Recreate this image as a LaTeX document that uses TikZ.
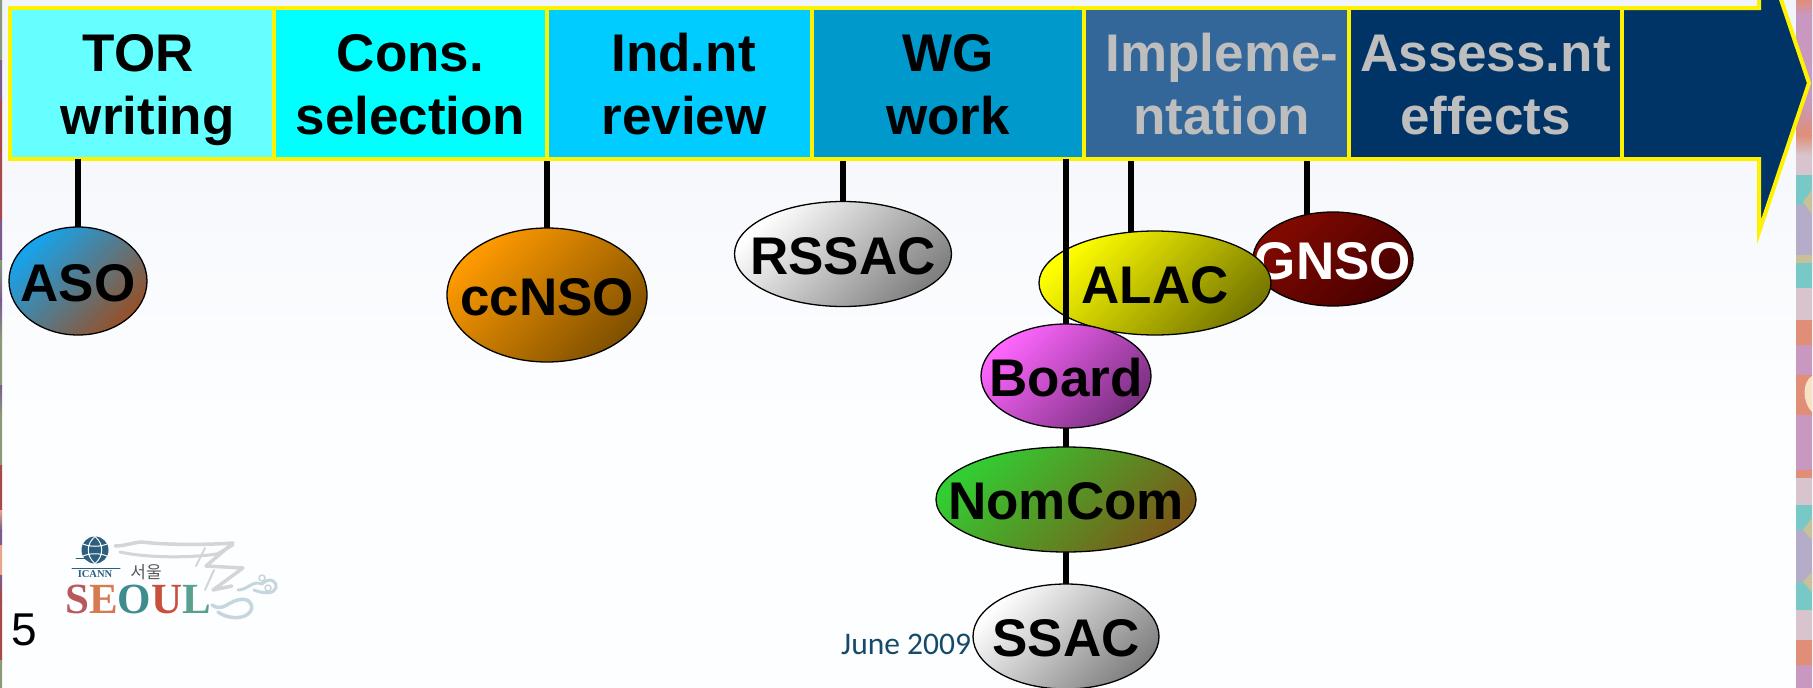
\documentclass[tikz,border=0pt]{standalone}
\usepackage{fontspec}
\setmainfont{Liberation Sans}
\newfontfamily\notecal{Carlito}
\newfontfamily\logoserif{Liberation Serif}
\newfontfamily\krfont{Noto Sans CJK KR}
\usetikzlibrary{shapes.geometric,calc}
\definecolor{sPu}{HTML}{C898C0}
\definecolor{sSa}{HTML}{E08E78}
\definecolor{sPk}{HTML}{D8C4CC}
\definecolor{sTe}{HTML}{78C8C8}
\definecolor{sLa}{HTML}{B4ACC8}
\definecolor{sKh}{HTML}{C8C098}
\definecolor{sBl}{HTML}{F8E2C4}
\definecolor{lGr}{HTML}{8A9A78}
\definecolor{lPu}{HTML}{7A5A90}
\definecolor{lRe}{HTML}{A84848}
\definecolor{lSa}{HTML}{E8A888}
\definecolor{navyb}{HTML}{003366}
\definecolor{roofc}{HTML}{D2D6D8}
\definecolor{cloudc}{HTML}{C6D6DE}
\definecolor{globec}{HTML}{2C5E7E}
\definecolor{datec}{HTML}{164A6A}
\definecolor{bgtop}{HTML}{F1F4FA}
\definecolor{bgbot}{HTML}{FDFEFF}
\definecolor{barA}{HTML}{66FFFF}
\definecolor{barB}{HTML}{00FFFF}
\definecolor{barC}{HTML}{00CCFF}
\definecolor{barD}{HTML}{0099CC}
\definecolor{barE}{HTML}{336699}
\definecolor{lighttxt}{HTML}{BEBEBE}
\definecolor{gnsoA}{HTML}{820A00}
\definecolor{gnsoB}{HTML}{480000}
\definecolor{alacB}{HTML}{787800}
\definecolor{asoA}{HTML}{14A5F0}
\definecolor{asoB}{HTML}{965028}
\definecolor{ccA}{HTML}{FF9B00}
\definecolor{ccB}{HTML}{805000}
\definecolor{greyB}{HTML}{808080}
\definecolor{boardA}{HTML}{FF66FF}
\definecolor{boardB}{HTML}{7A3080}
\definecolor{nomA}{HTML}{32CD32}
\definecolor{nomB}{HTML}{7A5A19}
\pgfdeclarelayer{bg}
\pgfdeclarelayer{stemlow}
\pgfdeclarelayer{elllow}
\pgfdeclarelayer{stemhigh}
\pgfsetlayers{bg,stemlow,elllow,stemhigh,main}
\newcommand{\twolines}[2]{\rule{0pt}{51pt}#1\\#2\rule[-12pt]{0pt}{12pt}}
\newcommand{\lab}[1]{\makebox[0pt]{\rule{0pt}{41pt}#1}}
\tikzset{
  bigtext/.style={font=\fontsize{53}{63}\selectfont\bfseries},
  bar/.style={rectangle,draw=yellow,line width=4pt,inner sep=0pt,outer sep=0pt,
    minimum height=151pt,align=center,bigtext,text=black},
  org/.style={ellipse,draw=black,line width=1.3pt,inner sep=0pt,outer sep=0pt,bigtext,text=black},
  grad/.style n args={2}{left color=#1,right color=#2,shading angle=45},
  stem/.style={draw=black,line width=6pt},
}
\begin{document}
\begin{tikzpicture}[x=1pt,y=-1pt]
\useasboundingbox (0,0) rectangle (1813,688);
\begin{pgfonlayer}{bg}
  \fill[white] (0,0) rectangle (1813,688);
  \shade[top color=bgtop,bottom color=bgbot] (0,0) rectangle (1813,420);
  \fill[bgbot] (0,420) rectangle (1813,688);
  % right strip
  \foreach \a/\b/\c/\d in {0/15/sSa/sPu,15/100/sPu/sPu,100/135/sPu/sSa,135/155/sSa/sPk,155/175/sPk/sPk,175/205/sTe/sTe,205/255/sLa/sLa,255/263/sKh/sKh,263/288/sTe/sTe,288/320/sPk/sPk,320/345/sSa/sSa,345/375/sPu/sPu,375/415/sSa/sSa,415/470/sPu/sPu,470/478/sSa/sSa,478/505/sPk/sPk,505/530/sTe/sTe,530/582/sLa/sLa,582/610/sTe/sTe,610/640/sPk/sPk,640/665/sSa/sSa,665/688/sPu/sPu}
    \shade[top color=\c,bottom color=\d] (1796,\a) rectangle (1812,\b);
  \fill[sKh] (1812,190) -- (1803,202) -- (1812,214) -- cycle;
  \fill[sKh] (1812,518) -- (1803,530) -- (1812,540) -- cycle;
  \fill[sKh] (1812,572) -- (1803,582) -- (1812,592) -- cycle;
  \fill[sBl] (1812,376) .. controls (1802,382) and (1802,402) .. (1812,412) -- cycle;
  % left strip
  \foreach \a/\b/\c/\d in {0/60/lGr/lGr,60/100/lPu/lPu,100/130/lRe/lRe,130/220/lRe/lRe,220/260/lPu/lPu,260/300/lGr/lPu,300/340/lPu/lGr,340/385/lGr/lGr,385/415/lPu/lGr,415/465/lGr/lGr,465/510/lRe/lRe,510/530/lSa/lPu,530/545/lPu/lPu,545/575/lSa/lSa,575/600/lPu/lRe,600/660/lRe/lRe,660/688/lGr/lGr}
    \shade[top color=\c,bottom color=\d] (0,\a) rectangle (2,\b);
  % logo
  \begin{scope}[line cap=round,line join=round]
    \draw[roofc,line width=3.5pt] (115,546) .. controls (125,546) and (135,542) .. (142,542) .. controls (165,545) and (205,545) .. (233,543) -- (206,566) -- (243,568) -- (213,590) -- (232,586);
    \draw[roofc,line width=3pt] (120,552) .. controls (147,558) and (190,558) .. (217,554) -- (233,545);
    \draw[roofc,line width=2pt] (205,548) -- (196,566) (214,570) -- (205,590);
    \draw[cloudc,line width=3pt] (238,590) .. controls (248,590) and (252,580) .. (262,584) .. controls (270,576) and (278,582) .. (276,588) .. controls (274,594) and (264,594) .. (254,590);
    \draw[cloudc,line width=3.5pt] (212,605) .. controls (222,612) and (228,602) .. (238,600) .. controls (250,596) and (256,608) .. (248,614) .. controls (240,620) and (226,618) .. (218,612);
    \draw[cloudc,line width=1.5pt] (262,578) circle (3) (268,588) circle (3);
    \fill[globec] (95,550) circle (13.5);
    \draw[white,line width=1pt] (95,536.5) .. controls (86,544) and (86,556) .. (95,563.5) (95,536.5) .. controls (104,544) and (104,556) .. (95,563.5) (83,544) .. controls (90,547) and (100,547) .. (107,544) (83,556) .. controls (90,553) and (100,553) .. (107,556);
    \draw[globec,line width=1pt] (76,558) -- (86,558) (72,568) -- (120,568);
  \end{scope}
  \node[anchor=base,inner sep=0,text=globec,font=\logoserif\fontsize{10.5}{12}\selectfont\bfseries] (icann) at (95,577) {ICANN};
  \node[anchor=base,inner sep=0,text=black!65,font=\krfont\fontsize{17}{18}\selectfont] (seoulkr) at (146,578) {서울};
  \node[anchor=base west,inner sep=0,font=\logoserif\fontsize{43}{44}\selectfont\bfseries] (seoul) at (65,613)
    {\color[HTML]{B85A5A}S\color[HTML]{D87A50}E\color[HTML]{3E8C8C}O\color[HTML]{C8503C}U\color[HTML]{5AA090}L};
  % arrow and bars
  \begin{scope}
    \clip (0,0) rectangle (1812,688);
    \path[fill=navyb,draw=yellow,line width=4pt,miter limit=10] (1400,8) -- (1759,8) -- (1759,-66) -- (1809,83) -- (1759,232) -- (1759,159) -- (1400,159) -- cycle;
  \end{scope}
  \node[bar,fill=barA,minimum width=264.5pt] (b1) at (141.75,83.5) {\twolines{TOR\hspace*{7pt}}{\hspace*{12pt}writing}};
  \node[bar,fill=barB,minimum width=273pt] (b2) at (410.5,83.5) {\twolines{Cons.}{selection}};
  \node[bar,fill=barC,minimum width=265pt] (b3) at (679.5,83.5) {\twolines{\hspace*{8pt}Ind.nt}{\hspace*{9pt}review}};
  \node[bar,fill=barD,minimum width=272pt] (b4) at (948,83.5) {\twolines{WG}{work}};
  \node[bar,fill=barE,text=lighttxt,minimum width=265pt] (b5) at (1216.5,83.5) {\twolines{\hspace*{11pt}Impleme-}{\hspace*{10pt}ntation}};
  \node[bar,fill=navyb,text=lighttxt,minimum width=273pt] (b6) at (1485.5,83.5) {\twolines{Assess.nt}{effects}};
\end{pgfonlayer}
% text
\node[anchor=base west,inner sep=0,font=\fontsize{46}{47}\selectfont] (pagenum) at (11,645) {5};
\node[anchor=base west,inner sep=0,text=datec,font=\notecal\fontsize{31.5}{34}\selectfont] (datetxt) at (841,654) {June 2009};
% low ellipses
\begin{pgfonlayer}{elllow}
  \node[org,grad={gnsoA}{gnsoB},text=white,minimum width=160pt,minimum height=94pt] (gnso) at (1333,259) {\lab{GNSO}};
  \node[org,grad={yellow}{alacB},minimum width=232pt,minimum height=104pt] (alac) at (1155,283) {\lab{ALAC}};
\end{pgfonlayer}
\node[org,grad={asoA}{asoB},minimum width=138pt,minimum height=108pt] (aso) at (78,281) {\lab{ASO}};
\node[org,grad={ccA}{ccB},minimum width=200pt,minimum height=134pt] (ccnso) at (547,295) {\lab{ccNSO}};
\node[org,grad={white}{greyB},minimum width=217pt,minimum height=105pt] (rssac) at (843,254) {\lab{RSSAC}};
\node[org,grad={boardA}{boardB},minimum width=170pt,minimum height=104pt] (board) at (1066,376) {\lab{Board}};
\node[org,grad={nomA}{nomB},minimum width=260pt,minimum height=105pt] (nomcom) at (1066,499.5) {\lab{NomCom}};
\node[org,grad={white}{greyB},minimum width=186pt,minimum height=105pt] (ssac) at (1066,636.5) {\lab{SSAC}};
% connectors
\begin{pgfonlayer}{stemlow}
  \path[stem] (b1.south -| aso.north) -- (aso.north);
  \path[stem,shorten <=2pt] (b2.south -| ccnso.north) -- (ccnso.north);
  \path[stem,shorten <=2pt] (b4.south -| rssac.north) -- (rssac.north);
  \coordinate (alacin) at (1131,236);
  \coordinate (gnsoin) at (1307,216);
  \path[stem,shorten <=2pt] (b5.south -| alacin) -- (alacin);
  \path[stem,shorten <=2pt] (b5.south -| gnsoin) -- (gnsoin);
\end{pgfonlayer}
\begin{pgfonlayer}{stemhigh}
  \path[stem] (b4.south -| board.north) -- (board.north);
  \path[stem] (board.south) -- (nomcom.north);
  \path[stem] (nomcom.south) -- (ssac.north);
\end{pgfonlayer}
\end{tikzpicture}
\end{document}
